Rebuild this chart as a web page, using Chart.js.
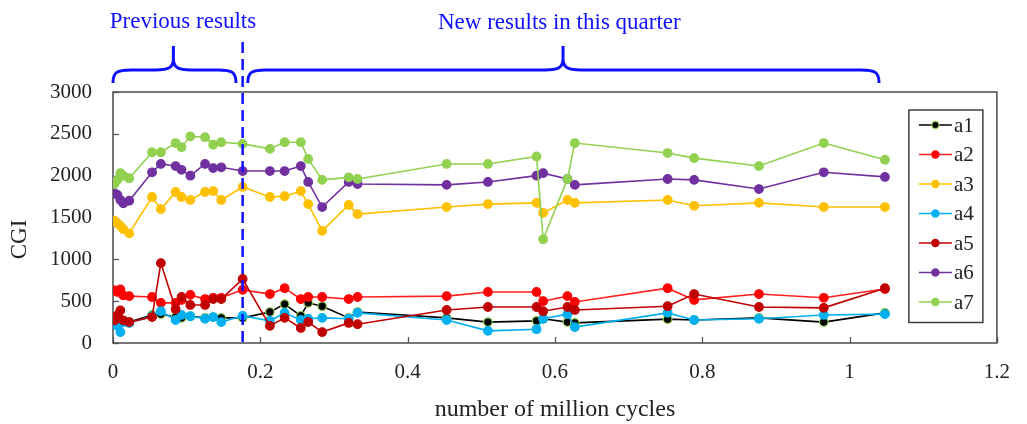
<!DOCTYPE html>
<html>
<head>
<meta charset="utf-8">
<script src="https://cdn.jsdelivr.net/npm/chart.js@4.4.1/dist/chart.umd.min.js"></script>
<style>
  html, body { margin: 0; padding: 0; background: #ffffff; }
  #wrap { width: 1027px; height: 424px; }
</style>
</head>
<body>
<div id="wrap"><canvas id="c" width="1027" height="424"></canvas></div>
<script>
// Test points, in million cycles
const X = [0.002, 0.006, 0.010, 0.014, 0.022, 0.053, 0.065, 0.085, 0.093, 0.105, 0.125, 0.136, 0.147, 0.176,
           0.213, 0.233, 0.255, 0.265, 0.284, 0.320, 0.332,
           0.453, 0.509, 0.575, 0.584, 0.617, 0.627, 0.753, 0.789, 0.877, 0.965, 1.048];

// CGI per sample
const A1 = [300, 290, 280, 260, 250, 335, 345, 310, 300, 320, 300, 310, 300, 300,
            370, 465, 325, 480, 440, 300, 370,
            300, 250, 265, 290, 250, 240, 285, 275, 300, 250, 360];
const A2 = [630, 610, 640, 570, 560, 550, 480, 480, 515, 575, 525, 540, 540, 635,
            585, 655, 525, 550, 550, 525, 550,
            560, 610, 610, 500, 560, 490, 655, 515, 585, 540, 645];
const A3 = [1460, 1430, 1400, 1360, 1310, 1745, 1600, 1805, 1745, 1710, 1805, 1815, 1710, 1865,
            1745, 1755, 1815, 1660, 1340, 1650, 1540,
            1625, 1660, 1675, 1555, 1710, 1675, 1710, 1640, 1675, 1625, 1625];
const A4 = [220, 210, 130, 250, 240, 320, 380, 275, 335, 320, 290, 310, 250, 325,
            265, 360, 275, 290, 300, 290, 360,
            275, 145, 165, 290, 345, 190, 360, 275, 290, 335, 345];
const A5 = [270, 330, 390, 270, 250, 310, 955, 405, 550, 455, 455, 525, 525, 765,
            205, 300, 180, 250, 130, 240, 225,
            395, 430, 430, 380, 430, 395, 440, 585, 430, 420, 655];
const A6 = [1790, 1770, 1710, 1670, 1700, 2040, 2140, 2115, 2070, 2000, 2140, 2090, 2100, 2055,
            2055, 2055, 2115, 1925, 1625, 1925, 1900,
            1890, 1925, 2000, 2030, 1960, 1890, 1960, 1950, 1840, 2040, 1985];
const A7 = [1900, 1950, 2030, 2000, 1970, 2280, 2280, 2390, 2340, 2470, 2460, 2370, 2400, 2380,
            2320, 2400, 2400, 2200, 1950, 1980, 1960,
            2140, 2140, 2230, 1240, 1960, 2390, 2270, 2210, 2115, 2390, 2190];

const SERIES_NAMES = ['a1', 'a2', 'a3', 'a4', 'a5', 'a6', 'a7'];
const SERIES_VALUES = [A1, A2, A3, A4, A5, A6, A7];
const LINE_COLORS = ['#000000', '#ff2020', '#ffc000', '#00b0f0', '#c00000', '#7030a0', '#92d050'];
const POINT_FILLS = ['#000000', '#ff0000', '#ffc000', '#00b0f0', '#c00000', '#7030a0', '#92d050'];
const POINT_EDGES = ['#92d050', '#ff0000', '#ffc000', '#00b0f0', '#c00000', '#7030a0', '#92d050'];

const X_TICKS = [0, 0.2, 0.4, 0.6, 0.8, 1, 1.2];
const Y_TICKS = [0, 500, 1000, 1500, 2000, 2500, 3000];

// Period split: last point of the earlier campaign
const SPLIT_X = 0.176;

const SERIF = '"Liberation Serif", "Times New Roman", serif';
const BLUE = '#1010ff';

const datasets = SERIES_NAMES.map((name, i) => ({
  label: name,
  data: X.map((x, k) => ({ x: x, y: SERIES_VALUES[i][k] })),
  borderColor: LINE_COLORS[i],
  backgroundColor: POINT_FILLS[i],
  pointBackgroundColor: POINT_FILLS[i],
  pointBorderColor: POINT_EDGES[i],
  pointBorderWidth: 1.2,
  pointRadius: 4.3,
  borderWidth: 1.6,
  tension: 0,
  order: SERIES_NAMES.length - i
}));

// Plot frame with inward tick marks
const framePlugin = {
  id: 'frame',
  beforeDatasetsDraw(chart) {
    const { ctx, chartArea: a, scales } = chart;
    ctx.save();
    ctx.strokeStyle = '#555555';
    ctx.lineWidth = 1.6;
    ctx.strokeRect(a.left, a.top, a.right - a.left, a.bottom - a.top);
    ctx.lineWidth = 1.3;
    scales.y.ticks.forEach(t => {
      const y = Math.round(scales.y.getPixelForValue(t.value)) + 0.5;
      ctx.beginPath(); ctx.moveTo(a.left, y); ctx.lineTo(a.left + 6, y); ctx.stroke();
    });
    scales.x.ticks.forEach(t => {
      const x = Math.round(scales.x.getPixelForValue(t.value)) + 0.5;
      ctx.beginPath(); ctx.moveTo(x, a.bottom); ctx.lineTo(x, a.bottom - 6); ctx.stroke();
    });
    // y axis title
    ctx.fillStyle = '#222222';
    ctx.font = '23px ' + SERIF;
    ctx.translate(20, (a.top + a.bottom) / 2 + 22);
    ctx.rotate(-Math.PI / 2);
    ctx.textAlign = 'center';
    ctx.textBaseline = 'middle';
    ctx.fillText('CGI', 0, 0);
    ctx.restore();
  }
};

// Legend box inside the plot, period braces and divider
const overlayPlugin = {
  id: 'overlay',
  afterDatasetsDraw(chart) {
    const { ctx, chartArea: a, scales } = chart;
    const xs = scales.x;
    ctx.save();

    // divider between campaigns
    const xd = xs.getPixelForValue(SPLIT_X);
    ctx.strokeStyle = BLUE;
    ctx.lineWidth = 2.5;
    ctx.setLineDash([11, 6]);
    ctx.beginPath(); ctx.moveTo(xd, 42); ctx.lineTo(xd, a.bottom); ctx.stroke();
    ctx.setLineDash([]);

    // braces
    function brace(x0, x1, xt) {
      const yTop = 46, yMid = 70, yEnd = 83, rx = 18, ry = 11;
      ctx.beginPath();
      ctx.moveTo(x0, yEnd);
      ctx.bezierCurveTo(x0, yMid + 2, x0 + 4, yMid, x0 + rx, yMid);
      ctx.lineTo(xt - rx, yMid);
      ctx.bezierCurveTo(xt - 4, yMid, xt, yMid - 3, xt, yMid - ry);
      ctx.lineTo(xt, yTop);
      ctx.moveTo(xt, yMid - ry);
      ctx.bezierCurveTo(xt, yMid - 3, xt + 4, yMid, xt + rx, yMid);
      ctx.lineTo(x1 - rx, yMid);
      ctx.bezierCurveTo(x1 - 4, yMid, x1, yMid + 2, x1, yEnd);
      ctx.stroke();
    }
    ctx.lineWidth = 3;
    brace(xs.getPixelForValue(0), xs.getPixelForValue(0.167), xs.getPixelForValue(0.082));
    brace(xs.getPixelForValue(0.183), xs.getPixelForValue(1.040), xs.getPixelForValue(0.611));

    ctx.fillStyle = BLUE;
    ctx.font = '23px ' + SERIF;
    ctx.textAlign = 'center';
    ctx.textBaseline = 'middle';
    ctx.fillText('Previous results', xs.getPixelForValue(0.095), 22);
    ctx.fillText('New results in this quarter', xs.getPixelForValue(0.606), 23);

    // legend
    const boxL = a.right - 88, boxT = a.top + 18, boxW = 74, rowH = 29.5;
    const n = chart.data.datasets.length;
    const boxH = rowH * n + 6;
    ctx.fillStyle = '#ffffff';
    ctx.fillRect(boxL, boxT, boxW, boxH);
    ctx.strokeStyle = '#333333';
    ctx.lineWidth = 1.4;
    ctx.strokeRect(boxL, boxT, boxW, boxH);
    ctx.font = '21px ' + SERIF;
    ctx.textAlign = 'left';
    chart.data.datasets.forEach((ds, i) => {
      const cy = boxT + 15 + i * rowH;
      ctx.strokeStyle = ds.borderColor;
      ctx.lineWidth = 1.6;
      ctx.beginPath(); ctx.moveTo(boxL + 10, cy); ctx.lineTo(boxL + 43, cy); ctx.stroke();
      ctx.beginPath();
      ctx.arc(boxL + 26.5, cy, 3.6, 0, Math.PI * 2);
      ctx.fillStyle = ds.pointBackgroundColor;
      ctx.fill();
      ctx.strokeStyle = ds.pointBorderColor;
      ctx.lineWidth = 1.2;
      ctx.stroke();
      ctx.fillStyle = '#222222';
      ctx.fillText(ds.label, boxL + 45, cy + 1);
    });
    ctx.restore();
  }
};

new Chart(document.getElementById('c'), {
  type: 'line',
  data: { datasets: datasets },
  plugins: [framePlugin, overlayPlugin],
  options: {
    responsive: false,
    animation: false,
    devicePixelRatio: 1,
    layout: { padding: { top: 92, right: 12, left: 0, bottom: 0 } },
    plugins: { legend: { display: false }, tooltip: { enabled: false } },
    scales: {
      x: {
        type: 'linear',
        min: 0, max: 1.2,
        afterBuildTicks: s => { s.ticks = X_TICKS.map(v => ({ value: v })); },
        afterFit: s => { s.height = 81; },
        grid: { display: false, drawTicks: false },
        border: { display: false },
        ticks: {
          padding: 17,
          color: '#222222',
          font: { family: SERIF, size: 21 },
          callback: v => String(Number(v.toFixed(1)))
        },
        title: {
          display: true,
          text: 'number of million cycles',
          color: '#222222',
          font: { family: SERIF, size: 24 },
          padding: { top: 0, bottom: 0 }
        }
      },
      y: {
        min: 0, max: 3000,
        afterBuildTicks: s => { s.ticks = Y_TICKS.map(v => ({ value: v })); },
        afterFit: s => { s.width = 113; },
        grid: { display: false, drawTicks: false },
        border: { display: false },
        ticks: {
          padding: 21,
          color: '#222222',
          font: { family: SERIF, size: 21 },
          callback: v => String(v)
        }
      }
    }
  }
});
</script>
</body>
</html>
